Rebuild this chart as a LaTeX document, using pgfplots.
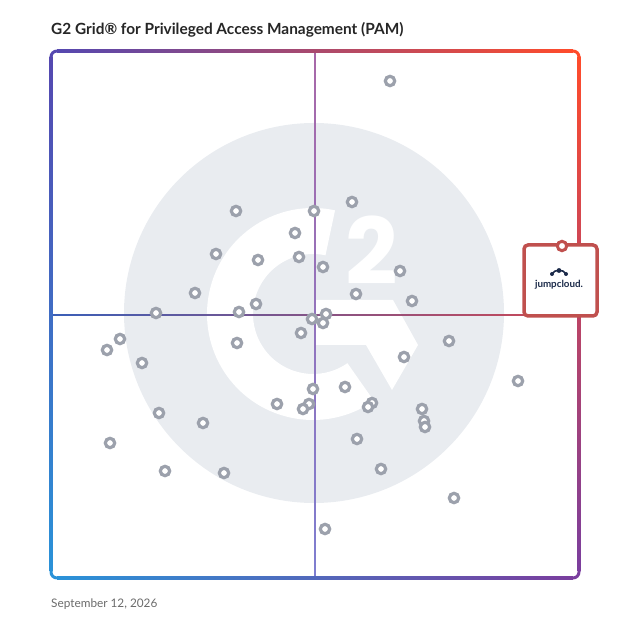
\documentclass[border=0pt]{standalone}
\usepackage{pgfplots}
\pgfplotsset{compat=1.18}
\usepackage{fontspec}
\setmainfont{Lato}
\newfontfamily\logofont{Poppins}
\definecolor{tl}{HTML}{5548B0}
\definecolor{tr}{HTML}{FF4B2B}
\definecolor{bl}{HTML}{2A92D8}
\definecolor{br}{HTML}{7A3E9E}
\definecolor{hl}{HTML}{3A5FB8}
\definecolor{hr}{HTML}{C04A5E}
\definecolor{vt}{HTML}{A868A8}
\definecolor{vb}{HTML}{7E7ED0}
\definecolor{mk}{HTML}{9CA1AC}
\definecolor{bg}{HTML}{E9ECF0}
\definecolor{jc}{HTML}{C0504E}
\definecolor{navy}{HTML}{1C2B4A}
\definecolor{dategray}{HTML}{6B6B6B}
\begin{document}
\begin{tikzpicture}
\useasboundingbox (0,0) rectangle (628pt,628pt);
\node[anchor=base west, inner sep=0pt, font=\fontsize{15.4}{17}\selectfont\bfseries, text=black!85] at (51pt,593pt) {G2 Grid® for Privileged Access Management (PAM)};
\node[anchor=base west, inner sep=0pt, font=\fontsize{11.8}{13}\selectfont, text=dategray] at (51pt,20pt) {September 12, 2026};
\begin{axis}[
  at={(51pt,50pt)}, anchor=south west,
  scale only axis, width=528pt, height=527pt,
  xmin=0, xmax=528, ymin=0, ymax=527,
  axis lines=none, clip=false, ticks=none,
]
% background logo
\fill[bg] (axis cs:263,265) circle[radius=190pt];
\coordinate (gc) at (axis cs:262,264);
\fill[white] ([shift={(78:106pt)}]gc) arc[start angle=78, end angle=305, radius=106pt]
  -- ([shift={(305:60pt)}]gc) arc[start angle=305, end angle=78, radius=60pt] -- cycle;
\fill[white] (axis cs:264,278) -- (axis cs:342,278) -- (axis cs:367,233) -- (axis cs:341,188) -- (axis cs:315,233) -- (axis cs:264,233) -- cycle;
\node[text=white, font=\fontsize{92}{92}\selectfont\logofont\bfseries, inner sep=0pt] at (axis cs:320.5,327.5) {2};
% quadrant lines
\shade[left color=hl, right color=hr] (axis cs:0,262.3) rectangle (axis cs:473,263.7);
\shade[top color=vt, bottom color=vb] (axis cs:263.3,0) rectangle (axis cs:264.7,527);
% frame
\shade[left color=tl, right color=tr] (axis cs:6,525.5) rectangle (axis cs:522,528.5);
\shade[left color=bl, right color=br] (axis cs:6,-1.5) rectangle (axis cs:522,1.5);
\shade[top color=tl, bottom color=bl] (axis cs:-1.5,6) rectangle (axis cs:1.5,521);
\shade[top color=tr, bottom color=br] (axis cs:526.5,6) rectangle (axis cs:529.5,521);
\draw[tl, line width=3pt] (axis cs:0,521) arc[start angle=180, end angle=90, radius=6pt];
\draw[tr, line width=3pt] (axis cs:522,527) arc[start angle=90, end angle=0, radius=6pt];
\draw[bl, line width=3pt] (axis cs:0,6) arc[start angle=180, end angle=270, radius=6pt];
\draw[br, line width=3pt] (axis cs:522,0) arc[start angle=270, end angle=360, radius=6pt];
% vendors
\addplot[only marks, mark=*, mark size=4.7pt, mark options={draw=mk, fill=white, line width=3.2pt}] coordinates {
(339,497) (185,367) (263,367) (301,376) (244,345) (165,324) (207,318) (248,321)
(272,311) (349,307) (144,285) (305,284) (361,277) (205,274) (105,265) (188,266)
(261,259) (275,264) (272,255) (250,245) (69,239) (56,228) (186,235) (398,237)
(91,215) (353,221) (467,197) (262,189) (294,191) (226,174) (258,174) (252,169)
(321,175) (317,171) (108,165) (371,169) (373,157) (374,151) (152,155) (306,139)
(59,135) (114,107) (173,105) (330,109) (403,80) (274,49)
};
% jumpcloud highlight
\draw[jc, line width=3.5pt, fill=white, rounded corners=4pt] (axis cs:473,262) rectangle (axis cs:546,333);
\fill[navy] (axis cs:501,304) circle[radius=2pt] (axis cs:508,307.5) circle[radius=2.4pt] (axis cs:515,304) circle[radius=2pt];
\draw[navy, line width=1.6pt] (axis cs:501,304) .. controls (axis cs:503,309) and (axis cs:513,309) .. (axis cs:515,304);
\node[text=navy, font=\fontsize{9.8}{10}\selectfont\bfseries, inner sep=0pt] at (axis cs:508,293) {jumpcloud.};
\addplot[only marks, mark=*, mark size=4.7pt, mark options={draw=jc, fill=white, line width=3pt}] coordinates {(511,332)};
\end{axis}
\end{tikzpicture}
\end{document}
